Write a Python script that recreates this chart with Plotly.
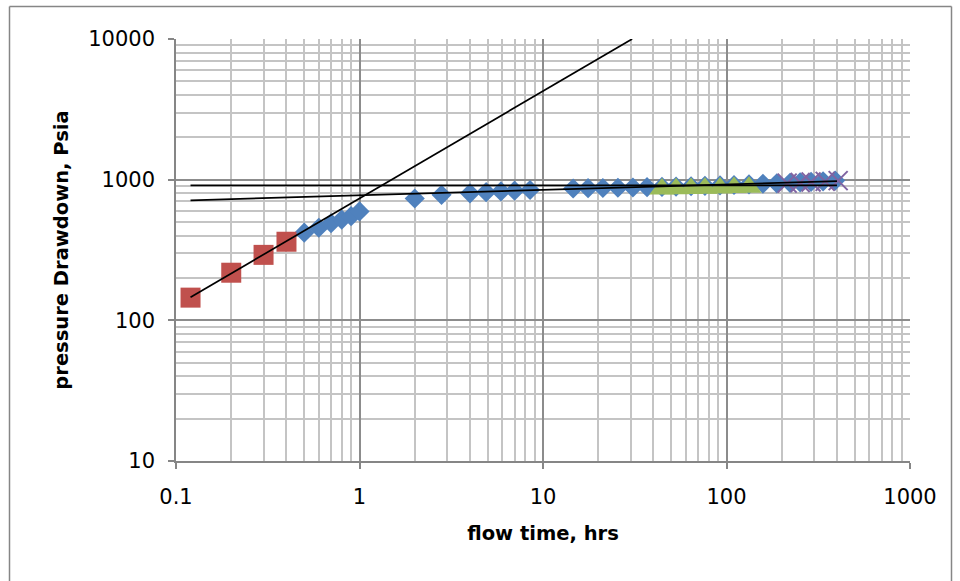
import plotly.graph_objects as go

# ---- data ----
red_t = [0.12, 0.2, 0.3, 0.4]
red_p = [145, 218, 292, 362]

blue_t = [0.5, 0.6, 0.7, 0.8, 0.9, 1.0,
          2.0, 2.8, 4.0, 4.9, 5.9, 7.0, 8.5,
          14.6, 17.6, 21.2, 25.6, 30.9, 36.9, 44.5, 53.1, 64.1, 76.3, 92.2,
          109.9, 132.6, 158, 188, 222, 252, 289, 336, 391]
blue_p = [420, 455, 490, 520, 550, 595,
          735, 780, 800, 815, 825, 835, 845,
          866, 870, 873, 876, 880, 884, 888, 893, 898, 904, 910,
          917, 925, 935, 942, 950, 957, 965, 973, 985]

green_t = [44.5, 53.1, 64.1, 76.3, 92.2, 109.9, 132.6]
green_p = [858, 862, 866, 870, 874, 878, 882]

purple_t = [214, 252, 289, 345, 406]
purple_p = [945, 955, 963, 972, 985]

# straight-line fits
steep_t = [0.12, 30.6]
steep_p = [146, 10000]
flat_t = [0.12, 400]
flat_p = [910, 910]
semi_t = [0.12, 400]
semi_p = [713, 975]

x_ticks = [0.1, 1, 10, 100, 1000]
x_labels = ["0.1", "1", "10", "100", "1000"]
y_ticks = [10, 100, 1000, 10000]
y_labels = ["10", "100", "1000", "10000"]

BLUE = "#4F81BD"
RED = "#C0504D"
GREEN = "#9BBB59"
PURPLE = "#8064A2"

fig = go.Figure()
fig.add_trace(go.Scatter(x=blue_t, y=blue_p, mode="markers",
                         marker=dict(symbol="diamond", size=15.5, color=BLUE, line=dict(width=0)),
                         showlegend=False, cliponaxis=False))
fig.add_trace(go.Scatter(x=red_t, y=red_p, mode="markers",
                         marker=dict(symbol="square", size=20, color=RED, line=dict(width=0)),
                         showlegend=False, cliponaxis=False))
fig.add_trace(go.Scatter(x=green_t, y=green_p, mode="markers",
                         marker=dict(symbol="triangle-up", size=22, color=GREEN, line=dict(width=0)),
                         showlegend=False, cliponaxis=False))
fig.add_trace(go.Scatter(x=purple_t, y=purple_p, mode="markers",
                         marker=dict(symbol="x-thin", size=19, color=PURPLE,
                                     line=dict(width=2, color=PURPLE)),
                         showlegend=False, cliponaxis=False))
for tx, py in [(steep_t, steep_p), (flat_t, flat_p), (semi_t, semi_p)]:
    fig.add_trace(go.Scatter(x=tx, y=py, mode="lines",
                             line=dict(color="black", width=1.7),
                             showlegend=False))

FONT = "DejaVu Sans"
axis_common = dict(
    showline=True, linecolor="#868686", linewidth=1.5,
    ticks="outside", ticklen=6, tickcolor="#868686", tickwidth=1.5,
    showgrid=True, gridcolor="#8C8C8C", gridwidth=1.5,
    zeroline=False, mirror=False,
    tickfont=dict(family=FONT, size=21, color="black"),
    automargin=False,
)

fig.update_xaxes(type="log", range=[-1, 3], tickvals=x_ticks, ticktext=x_labels,
                 minor=dict(dtick="D1", showgrid=True, gridcolor="#C4C4C4", gridwidth=1.5,
                            ticks=""),
                 title=dict(text="<b>flow time, hrs</b>", font=dict(family=FONT, size=19.5, color="black"),
                            standoff=18),
                 ticklabelstandoff=10,
                 **axis_common)
fig.update_yaxes(type="log", range=[1, 4], tickvals=y_ticks, ticktext=y_labels,
                 minor=dict(dtick="D1", showgrid=True, gridcolor="#C4C4C4", gridwidth=1.5,
                            ticks=""),
                 title=dict(text="<b>pressure Drawdown, Psia</b>", font=dict(family=FONT, size=19.5, color="black"),
                            standoff=14),
                 ticklabelstandoff=9,
                 **axis_common)

# outer chart-area border
def px2x(px):
    return (px - 176) / 734.0

def py2y(py):
    return (461 - py) / 422.0

BORDER = dict(color="#868686", width=1.5)
fig.add_shape(type="line", xref="paper", yref="paper",
              x0=px2x(9.5), x1=px2x(951.5), y0=py2y(6.5), y1=py2y(6.5), line=BORDER)
fig.add_shape(type="line", xref="paper", yref="paper",
              x0=px2x(9.5), x1=px2x(9.5), y0=py2y(6.5), y1=py2y(600), line=BORDER)
fig.add_shape(type="line", xref="paper", yref="paper",
              x0=px2x(951.5), x1=px2x(951.5), y0=py2y(6.5), y1=py2y(600), line=BORDER)

fig.update_layout(
    width=960, height=581,
    margin=dict(l=176, r=50, t=39, b=120),
    paper_bgcolor="white", plot_bgcolor="white",
    font=dict(family=FONT, color="black"),
)

fig.write_html("out.html", config={"displayModeBar": False},
               post_script="document.body.style.margin='0px';document.body.style.overflow='hidden';")
